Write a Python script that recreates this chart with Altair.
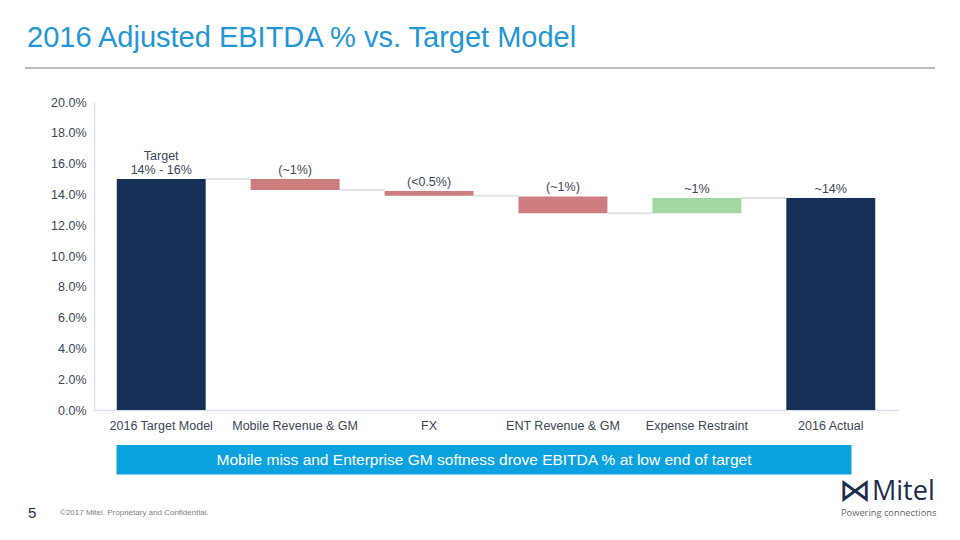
import altair as alt
import pandas as pd

# ---- data ----
categories = ["2016 Target Model", "Mobile Revenue & GM", "FX",
              "ENT Revenue & GM", "Expense Restraint", "2016 Actual"]
bar_start = [0.0, 0.1500, 0.1422, 0.1387, 0.1277, 0.0]
bar_end = [0.1500, 0.1428, 0.1392, 0.1277, 0.1376, 0.1376]
kinds = ["total", "decrease", "decrease", "decrease", "increase", "total"]
bar_headers = ["Target", "", "", "", "", ""]
bar_labels = ["14% - 16%", "(~1%)", "(<0.5%)", "(~1%)", "~1%", "~14%"]
y_ticks = [0.0, 0.02, 0.04, 0.06, 0.08, 0.10, 0.12, 0.14, 0.16, 0.18, 0.20]

title_text = "2016 Adjusted EBITDA % vs. Target Model"
callout_text = "Mobile miss and Enterprise GM softness drove EBITDA % at low end of target"
page_number = "5"
copyright_text = "\u00a92017 Mitel. Proprietary and Confidential."
brand_text = "Mitel"
tagline_text = "Powering connections"

NAVY = "#16305a"
RED = "#cd7d7d"
GREEN = "#a2d7a3"
TEXT = "#3b4658"
FONT = "Liberation Sans"

bars = pd.DataFrame({
    "cat": categories,
    "start": bar_start,
    "end": bar_end,
    "kind": kinds,
    "header": bar_headers,
    "label": bar_labels,
})
bars["top"] = bars[["start", "end"]].max(axis=1)

connectors = pd.DataFrame({
    "from": categories[:-1],
    "to": categories[1:],
    "level": bar_end[:-1],
})

xscale = alt.Scale(domain=categories, paddingInner=0.336, paddingOuter=0.17)
yscale = alt.Scale(domain=[0, 0.2], nice=False)

x_axis = alt.Axis(title=None, labelAngle=0, labelFontSize=12.5,
                  labelColor=TEXT, labelFont=FONT, ticks=False,
                  labelAlign="center", labelBaseline="top", bandPosition=0.5,
                  labelPadding=9, labelOverlap=False,
                  domainColor="#d9e0ea", domainWidth=1.5)
y_axis = alt.Axis(title=None, values=y_ticks, format=".1%", grid=False,
                  ticks=False, labelPadding=8, labelFontSize=12.5,
                  labelColor=TEXT, labelFont=FONT, labelOverlap=False,
                  labelAlign="right", labelBaseline="middle",
                  domainColor="#d9e0ea", domainWidth=1.5)

bar_layer = alt.Chart(bars).mark_bar().encode(
    x=alt.X("cat:N", scale=xscale, sort=categories, axis=x_axis),
    y=alt.Y("start:Q", scale=yscale, axis=y_axis),
    y2="end:Q",
    color=alt.Color("kind:N", legend=None,
                    scale=alt.Scale(domain=["total", "decrease", "increase"],
                                    range=[NAVY, RED, GREEN])),
)

conn_layer = alt.Chart(connectors).mark_rule(color="#e3e3e3", strokeWidth=2).encode(
    x=alt.X("from:N", scale=xscale, sort=categories, bandPosition=1, axis=x_axis),
    x2=alt.X2("to:N", bandPosition=0),
    y=alt.Y("level:Q", scale=yscale, axis=y_axis),
)

label_layer = alt.Chart(bars).mark_text(
    baseline="bottom", dy=-2, fontSize=12.5, color=TEXT, font=FONT,
).encode(
    x=alt.X("cat:N", scale=xscale, sort=categories, axis=x_axis),
    y=alt.Y("top:Q", scale=yscale, axis=y_axis),
    text="label:N",
)

header_layer = alt.Chart(bars).mark_text(
    baseline="bottom", dy=-16, fontSize=12.5, color=TEXT, font=FONT,
).encode(
    x=alt.X("cat:N", scale=xscale, sort=categories, axis=x_axis),
    y=alt.Y("top:Q", scale=yscale, axis=y_axis),
    text="header:N",
)

# ---- slide decorations (positions relative to plot area) ----
def text_layer(txt, **kw):
    return alt.Chart(pd.DataFrame({"t": [txt]})).mark_text(**kw).encode(text="t:N")

title_layer = text_layer(title_text, x=-67, y=-55, align="left", baseline="alphabetic",
                         fontSize=29, color="#1f97d4", font=FONT)
title_rule = alt.Chart(pd.DataFrame({"t": [0]})).mark_rule(
    color="#a8a8a8", strokeWidth=1.5).encode(
    x=alt.value(-69), x2=alt.value(841), y=alt.value(-34))

box_layer = alt.Chart(pd.DataFrame({"t": [0]})).mark_rect(color="#0ca2df").encode(
    x=alt.value(22.5), x2=alt.value(757.5), y=alt.value(343), y2=alt.value(372.5))
box_text = text_layer(callout_text, x=390, y=358, align="center", baseline="middle",
                      fontSize=15.5, color="white", font=FONT)

page_layer = text_layer(page_number, x=-66, y=411, align="left", baseline="middle",
                        fontSize=15, color="#1d2c4c", font=FONT)
copy_layer = text_layer(copyright_text, x=-34, y=411, align="left", baseline="middle",
                        fontSize=8, color="#7f7f7f", font=FONT)
icon_layer = text_layer("\u22c8", x=761, y=389, align="center", baseline="middle",
                        fontSize=32, color="#1d2c4c", font="DejaVu Sans")
brand_layer = text_layer(brand_text, x=778, y=397.5, align="left", baseline="alphabetic",
                         fontSize=27, color="#1d2c4c", font="Open Sans")
tag_layer = text_layer(tagline_text, x=747, y=411, align="left", baseline="middle",
                       fontSize=9.3, color="#666666", font="Open Sans")

chart = alt.layer(
    conn_layer, bar_layer, label_layer, header_layer,
    title_layer, title_rule, box_layer, box_text,
    page_layer, copy_layer, icon_layer, brand_layer, tag_layer,
).properties(
    width=804, height=308,
    autosize=alt.AutoSizeParams(type="none"),
    padding={"left": 86, "top": 94, "right": 50, "bottom": 116},
).configure(background="white").configure_view(strokeWidth=0, stroke="transparent")

chart.save("out.html", embed_options={"renderer": "svg", "actions": False})
